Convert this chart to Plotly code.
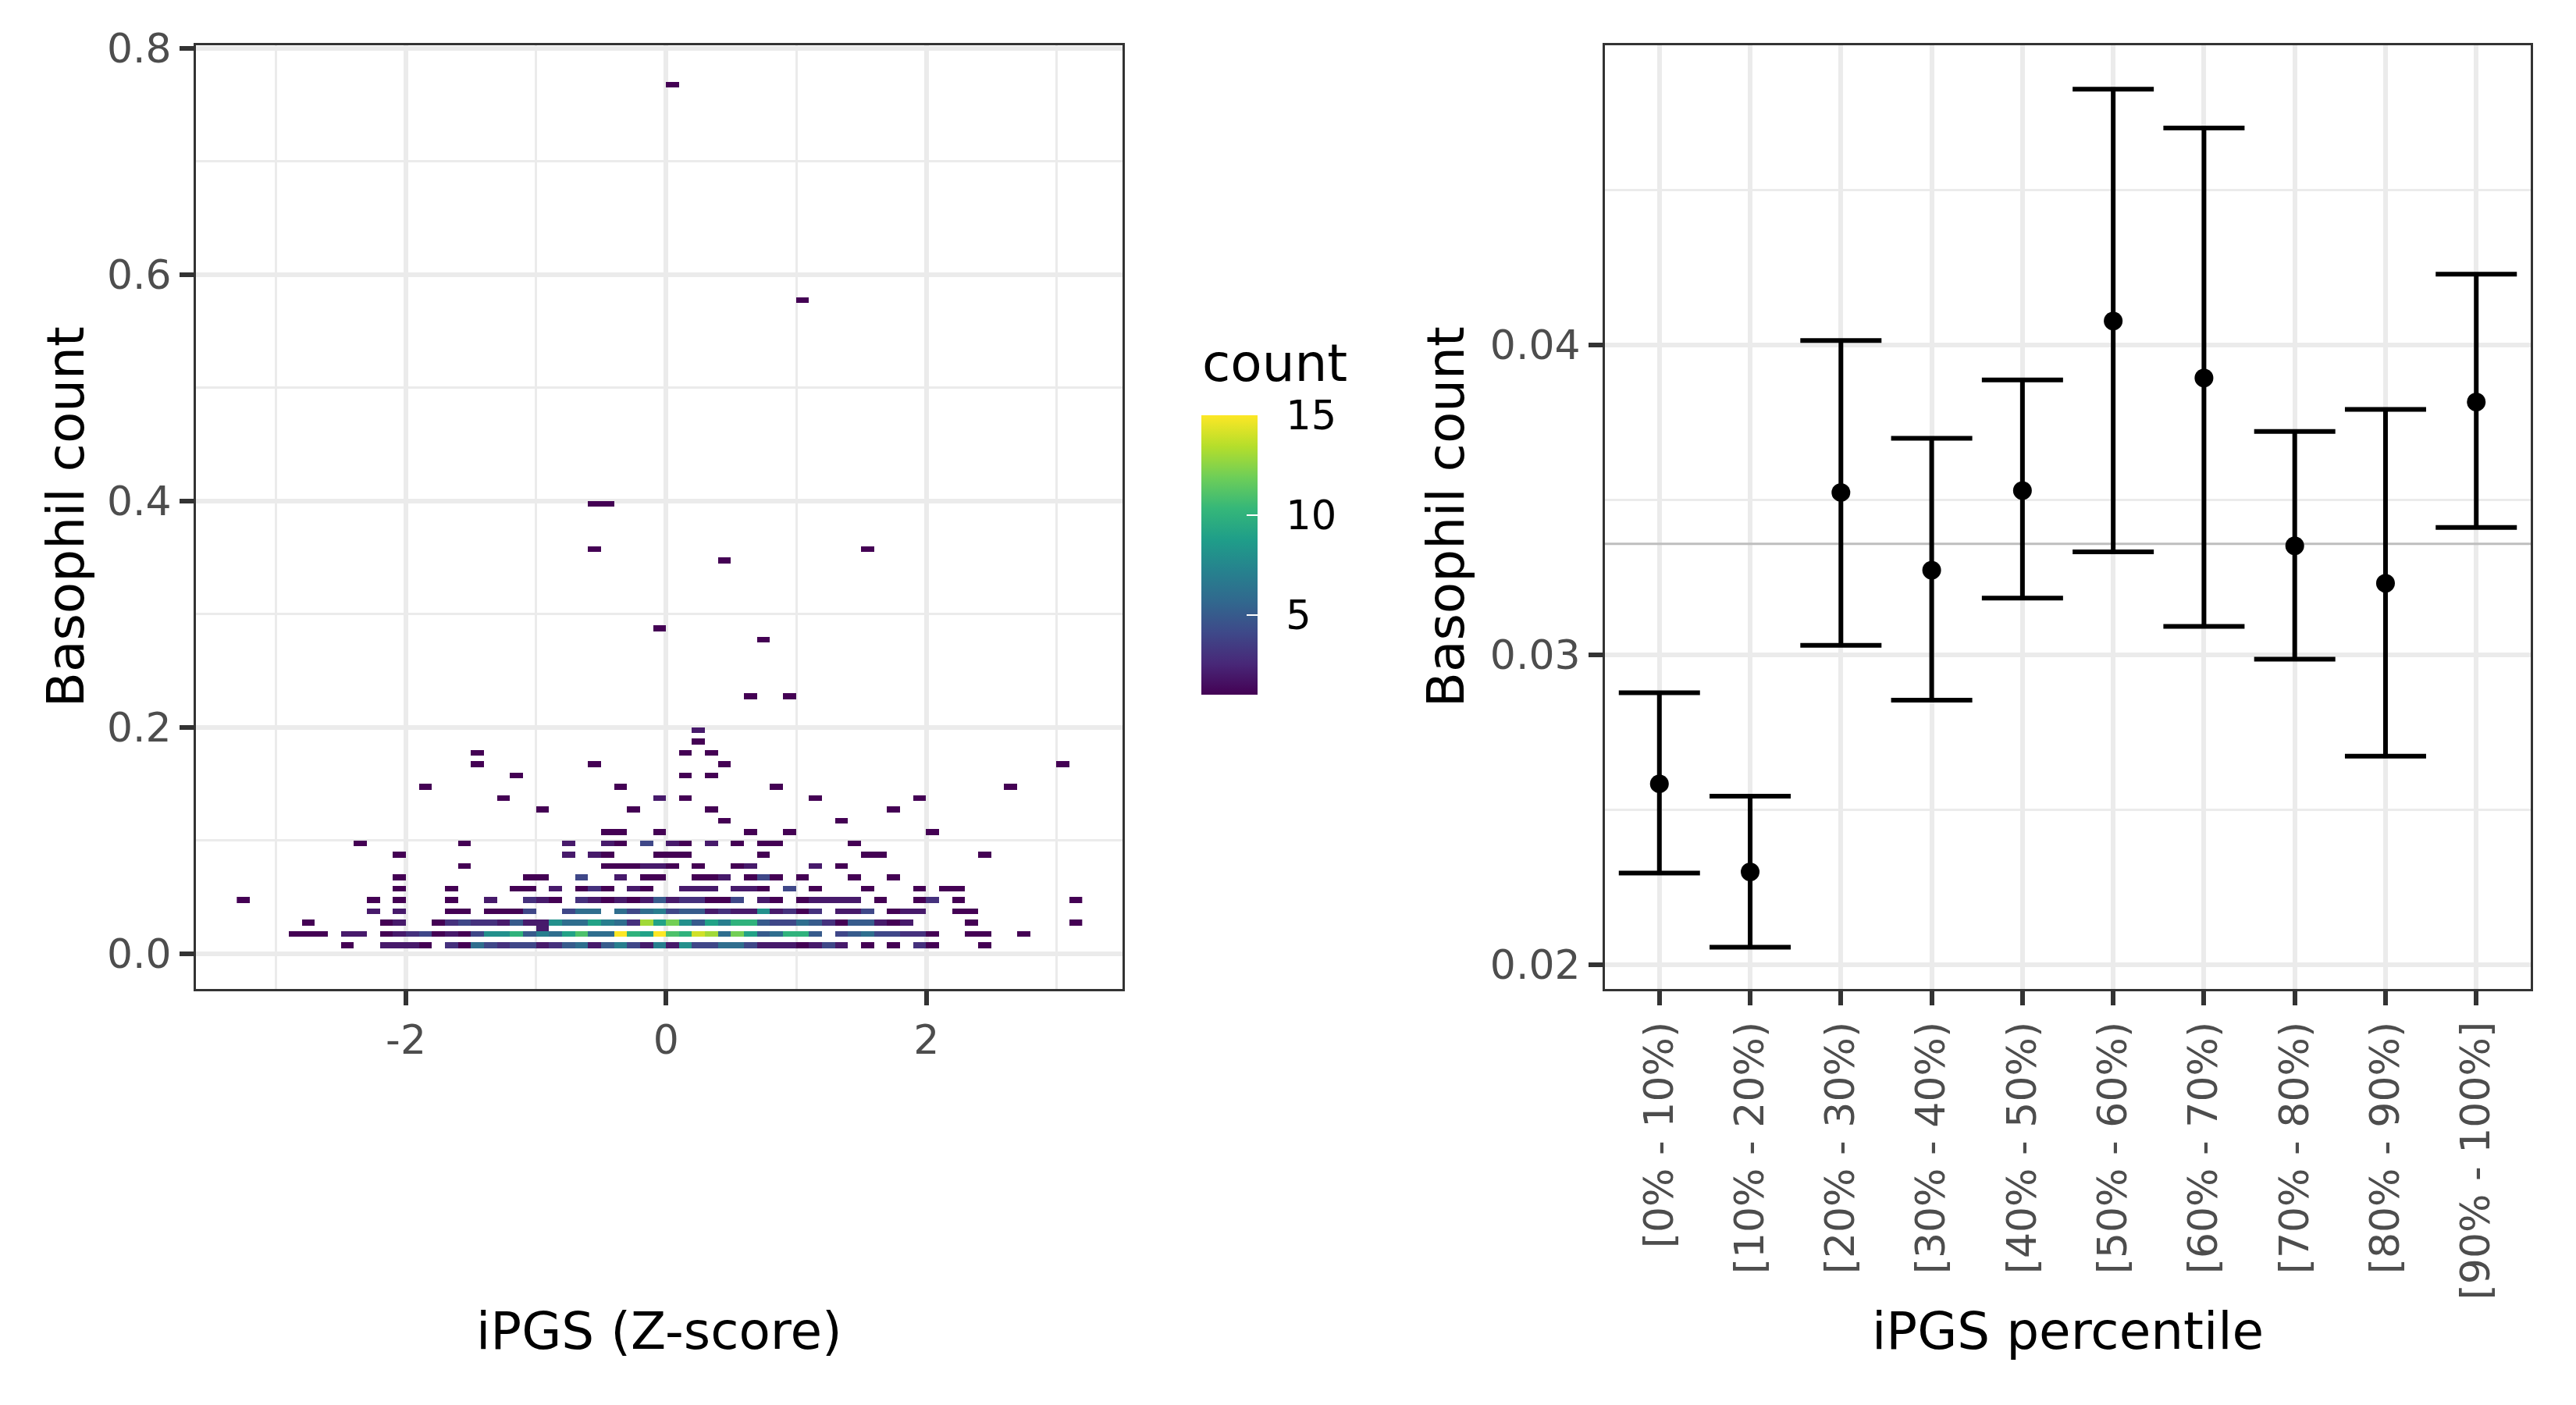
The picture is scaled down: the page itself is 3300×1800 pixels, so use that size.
import plotly.graph_objects as go

# ---------------- Left panel: 2D bin counts ----------------
# Each row: basophil count value v (bins cover [v-0.005, v]); entries = (iPGS bin left edge, count)
r001 = [(-2.5,1),(-2.2,2),(-2.1,2),(-2.0,2),(-1.9,1),(-1.7,3),(-1.6,1),(-1.5,6),(-1.4,4),(-1.3,3),(-1.2,4),(-1.1,4),(-1.0,2),(-0.9,3),(-0.8,5),(-0.7,6),(-0.6,2),(-0.5,5),(-0.4,7),(-0.3,4),(-0.2,2),(-0.1,7),(0.0,2),(0.1,8),(0.2,4),(0.3,4),(0.4,6),(0.5,6),(0.6,4),(0.7,2),(0.8,2),(0.9,2),(1.0,1),(1.1,2),(1.2,4),(1.3,2),(1.5,1),(1.7,1),(1.9,3),(2.0,1),(2.4,1)]
r002 = [(-2.9,1),(-2.8,1),(-2.7,1),(-2.5,2),(-2.4,2),(-2.2,1),(-2.1,2),(-2.0,3),(-1.9,4),(-1.8,1),(-1.7,2),(-1.6,1),(-1.5,4),(-1.4,8),(-1.3,8),(-1.2,10),(-1.1,5),(-1.0,7),(-0.9,6),(-0.8,9),(-0.7,11),(-0.6,6),(-0.5,6),(-0.4,15),(-0.3,10),(-0.2,9),(-0.1,15),(0.0,11),(0.1,10),(0.2,14),(0.3,13),(0.4,6),(0.5,12),(0.6,9),(0.7,5),(0.8,6),(0.9,10),(1.0,10),(1.1,5),(1.3,4),(1.4,5),(1.5,6),(1.6,4),(1.7,4),(1.8,3),(1.9,3),(2.0,1),(2.3,1),(2.4,1),(2.7,1)]
r0025 = [(-1.0,2)]
r003 = [(-2.8,1),(-2.2,1),(-2.1,2),(-1.8,1),(-1.7,3),(-1.6,4),(-1.5,3),(-1.4,3),(-1.3,2),(-1.2,5),(-1.1,2),(-1.0,2),(-0.9,8),(-0.8,6),(-0.7,6),(-0.6,9),(-0.5,7),(-0.4,6),(-0.3,3),(-0.2,13),(-0.1,9),(0.0,12),(0.1,8),(0.2,5),(0.3,9),(0.4,7),(0.5,10),(0.6,10),(0.7,5),(0.8,4),(0.9,4),(1.0,6),(1.1,5),(1.2,3),(1.3,1),(1.4,5),(1.5,5),(1.6,2),(1.7,1),(1.8,2),(2.3,1),(3.1,1)]
r004 = [(-2.3,2),(-2.1,2),(-1.7,1),(-1.6,1),(-1.4,1),(-1.3,1),(-1.2,1),(-1.1,4),(-0.8,4),(-0.7,6),(-0.6,6),(-0.4,6),(-0.3,4),(-0.2,6),(-0.1,7),(0.0,4),(0.1,5),(0.2,5),(0.3,2),(0.4,3),(0.5,2),(0.6,2),(0.7,8),(0.8,2),(0.9,3),(1.0,1),(1.1,3),(1.3,2),(1.4,2),(1.5,4),(1.7,1),(1.8,2),(1.9,2),(2.2,1),(2.3,1)]
r005 = [(-3.3,1),(-2.3,1),(-2.1,1),(-1.7,1),(-1.4,2),(-1.1,3),(-1.0,2),(-0.9,1),(-0.7,3),(-0.6,2),(-0.5,1),(-0.4,2),(-0.3,1),(-0.2,2),(-0.1,5),(0.0,2),(0.1,3),(0.2,3),(0.3,1),(0.4,1),(0.5,4),(0.7,2),(0.8,1),(1.0,1),(1.1,2),(1.2,2),(1.3,2),(1.4,2),(1.6,1),(1.9,1),(2.0,3),(2.2,1),(3.1,1)]
r006 = [(-2.1,1),(-1.7,1),(-1.2,1),(-1.1,1),(-0.9,2),(-0.7,1),(-0.6,3),(-0.5,1),(-0.3,2),(-0.2,1),(0.1,2),(0.2,2),(0.3,2),(0.5,2),(0.6,2),(0.7,1),(0.9,4),(1.1,1),(1.5,1),(1.9,1),(2.1,1),(2.2,1)]
r007 = [(-2.1,1),(-1.1,1),(-1.0,1),(-0.7,4),(-0.4,2),(-0.2,1),(-0.1,1),(0.2,1),(0.3,1),(0.4,2),(0.6,1),(0.7,4),(0.8,1),(1.0,1),(1.4,1),(1.7,1)]
r008 = [(-1.6,1),(-0.5,1),(-0.4,1),(-0.3,1),(-0.2,2),(-0.1,2),(0.0,1),(0.2,1),(0.5,1),(0.6,2),(1.1,2),(1.3,1)]
r009 = [(-2.1,1),(-0.8,2),(-0.6,2),(-0.5,1),(-0.1,1),(0.0,1),(0.1,1),(0.7,1),(1.5,1),(1.6,1),(2.4,1)]
r010 = [(-2.4,1),(-1.6,1),(-0.8,2),(-0.5,2),(-0.4,1),(-0.2,4),(0.0,2),(0.1,1),(0.3,2),(0.5,1),(0.7,1),(0.8,1),(1.4,1)]
r011 = [(-0.5,1),(-0.4,1),(-0.1,1),(0.6,1),(0.9,1),(2.0,1)]
r012 = [(0.4,1),(1.3,1)]
r013 = [(-1.0,1),(-0.3,1),(0.3,1),(1.7,1)]
r014 = [(-1.3,1),(-0.1,2),(0.1,1),(1.1,1),(1.9,1)]
r015 = [(-1.9,1),(-0.4,1),(0.8,1),(2.6,1)]
r016 = [(-1.2,1),(0.1,1),(0.3,1)]
r017 = [(-1.5,1),(-0.6,1),(0.4,1),(3.0,1)]
r018 = [(-1.5,1),(0.1,1),(0.3,1)]
r019 = [(0.2,1)]
r020 = [(0.2,2)]
r023 = [(0.6,1),(0.9,1)]
r028 = [(0.7,1)]
r029 = [(-0.1,1)]
r035 = [(0.4,1)]
r036 = [(-0.6,1),(1.5,1)]
r040 = [(-0.6,1),(-0.5,1)]
r058 = [(1.0,1)]
r077 = [(0.0,1)]

bin_rows = [(0.01, r001), (0.02, r002), (0.025, r0025), (0.03, r003), (0.04, r004), (0.05, r005),
            (0.06, r006), (0.07, r007), (0.08, r008), (0.09, r009), (0.10, r010), (0.11, r011),
            (0.12, r012), (0.13, r013), (0.14, r014), (0.15, r015), (0.16, r016), (0.17, r017),
            (0.18, r018), (0.19, r019), (0.20, r020), (0.23, r023), (0.28, r028), (0.29, r029),
            (0.35, r035), (0.36, r036), (0.40, r040), (0.58, r058), (0.77, r077)]

X_BIN = 0.1
Y_BIN = 0.005

# ---------------- Right panel: mean and CI by percentile ----------------
percentile_bins = ["[0% - 10%)", "[10% - 20%)", "[20% - 30%)", "[30% - 40%)", "[40% - 50%)",
                   "[50% - 60%)", "[60% - 70%)", "[70% - 80%)", "[80% - 90%)", "[90% - 100%]"]
mean_val = [0.02584, 0.02300, 0.03524, 0.03273, 0.03530, 0.04077, 0.03893, 0.03352, 0.03231, 0.03816]
ci_low = [0.02296, 0.02057, 0.03031, 0.02854, 0.03183, 0.03332, 0.03092, 0.02986, 0.02673, 0.03411]
ci_high = [0.02878, 0.02544, 0.04014, 0.03699, 0.03887, 0.04825, 0.04700, 0.03721, 0.03792, 0.04228]
overall_mean = 0.03358

# ---------------- Build heatmap grid ----------------
i_min, i_max = -33, 31
m_min, m_max = 0, 154
x_centers = [round(i * X_BIN + X_BIN / 2, 4) for i in range(i_min, i_max + 1)]
y_centers = [round(m * Y_BIN + Y_BIN / 2, 5) for m in range(m_min, m_max + 1)]
z = [[None] * len(x_centers) for _ in y_centers]
for v, cells in bin_rows:
    m = int(round(v / Y_BIN)) - 1
    for xl, n in cells:
        i = int(round(xl / X_BIN))
        z[m - m_min][i - i_min] = n

W, H = 3300, 1800
FONT = "DejaVu Sans"
TICK_COL = "#4D4D4D"
GRID = "#EBEBEB"
BORDER = "#333333"

def px_x(p):
    return p / W

def px_y(p):
    return 1 - p / H

top_px, bot_px = 57.5, 1267
L1, R1 = 251, 1438
L2, R2 = 2056, 3242
X2_RANGE = [0.4, 10.6]

fig = go.Figure()

fig.add_trace(go.Heatmap(
    x=x_centers, y=y_centers, z=z, xaxis="x", yaxis="y",
    colorscale="Viridis", zmin=1, zmax=15, hoverongaps=False,
    colorbar=dict(
        x=px_x(1539), xanchor="left", xref="paper", xpad=0, ypad=0,
        y=px_y(711), yanchor="middle", yref="paper",
        len=358, lenmode="pixels", thickness=72, thicknessmode="pixels",
        outlinewidth=0,
        tickvals=[5, 10, 15], ticktext=["\u20025", "\u200210", "\u200215"],
        ticks="inside", ticklen=14, tickwidth=2, tickcolor="white",
        tickfont=dict(family=FONT, size=51, color="black"),
    ),
))

# reference line at overall mean (drawn under the error bars)
fig.add_trace(go.Scatter(
    x=X2_RANGE, y=[overall_mean, overall_mean], xaxis="x2", yaxis="y2", mode="lines",
    line=dict(color="#BEBEBE", width=3), showlegend=False, hoverinfo="skip",
))

err_plus = [h - m for h, m in zip(ci_high, mean_val)]
err_minus = [m - l for m, l in zip(mean_val, ci_low)]
xpos = list(range(1, len(percentile_bins) + 1))
fig.add_trace(go.Scatter(
    x=xpos, y=mean_val, xaxis="x2", yaxis="y2", mode="markers",
    marker=dict(size=24, color="black"),
    error_y=dict(type="data", symmetric=False, array=err_plus, arrayminus=err_minus,
                 width=52, thickness=6, color="black"),
    showlegend=False,
))

common_axis = dict(
    showgrid=True, gridcolor=GRID, gridwidth=6, zeroline=False,
    showline=True, mirror=True, linecolor=BORDER, linewidth=3,
    ticks="outside", ticklen=18, tickwidth=6, tickcolor=BORDER,
    tickfont=dict(family=FONT, size=52, color=TICK_COL), automargin=False,
)

fig.update_layout(
    width=W, height=H, margin=dict(l=0, r=0, t=0, b=0, pad=0, autoexpand=False),
    paper_bgcolor="white", plot_bgcolor="white", showlegend=False,
    font=dict(family=FONT),
    xaxis=dict(domain=[px_x(L1), px_x(R1)], range=[-3.614, 3.507], anchor="y",
               tickvals=[-2, 0, 2], ticktext=["-2", "0", "2"],
               minor=dict(tickvals=[-3, -1, 1, 3], showgrid=True, gridcolor=GRID, gridwidth=3, ticks=""),
               **common_axis),
    yaxis=dict(domain=[px_y(bot_px), px_y(top_px)], range=[-0.0312, 0.8029], anchor="x",
               tickvals=[0, 0.2, 0.4, 0.6, 0.8], ticktext=["0.0", "0.2", "0.4", "0.6", "0.8"],
               minor=dict(tickvals=[0.1, 0.3, 0.5, 0.7], showgrid=True, gridcolor=GRID, gridwidth=3, ticks=""),
               **common_axis),
    xaxis2=dict(domain=[px_x(L2), px_x(R2)], range=X2_RANGE, anchor="y2",
                tickvals=xpos, ticktext=percentile_bins, tickangle=-90,
                **common_axis),
    yaxis2=dict(domain=[px_y(bot_px), px_y(top_px)], range=[0.01922, 0.04968], anchor="x2",
                tickvals=[0.02, 0.03, 0.04], ticktext=["0.02", "0.03", "0.04"],
                minor=dict(tickvals=[0.025, 0.035, 0.045], showgrid=True, gridcolor=GRID, gridwidth=3, ticks=""),
                **common_axis),
)

title_font = dict(family=FONT, size=66, color="black")
mid_y = (top_px + bot_px) / 2
annos = [
    dict(text="Basophil count", x=px_x(84), y=px_y(mid_y), textangle=-90),
    dict(text="Basophil count", x=px_x(1852), y=px_y(mid_y), textangle=-90),
    dict(text="iPGS (Z-score)", x=px_x((L1 + R1) / 2), y=px_y(1705)),
    dict(text="iPGS percentile", x=px_x((L2 + R2) / 2), y=px_y(1705)),
]
for a in annos:
    fig.add_annotation(xref="paper", yref="paper", showarrow=False, xanchor="center", yanchor="middle",
                       font=title_font, **a)
fig.add_annotation(text="count", xref="paper", yref="paper", x=px_x(1538), y=px_y(506),
                   xanchor="left", yanchor="bottom", showarrow=False,
                   font=dict(family=FONT, size=66, color="black"))

fig.write_html("out.html", config={"displayModeBar": False},
               post_script="document.body.style.margin='0px';")
